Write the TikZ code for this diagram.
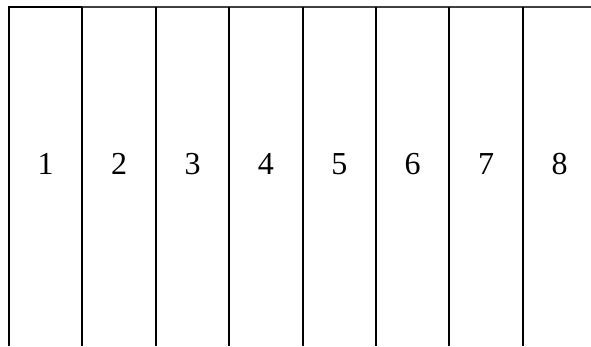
\documentclass[tikz,border=0pt]{standalone}
\usepackage{fontspec}
\setmainfont{Liberation Serif}
\begin{document}
\begin{tikzpicture}[x=1pt,y=-1pt,
  divider/.style={line width=2pt,black},
  topline/.style={line width=2pt,black!75},
  num/.style={font=\fontsize{32}{36}\selectfont,inner sep=0pt,anchor=center}]
\useasboundingbox (0,0) rectangle (591,347);
\coordinate (tl) at (8,7);
\coordinate (tr) at (591,7);
\draw[topline] (tl) -- (tr);
\foreach \i in {0,...,7}{
  \coordinate (t\i) at ({9+73.4*\i},7);
  \coordinate (b\i) at ({9+73.4*\i},346);
  \draw[divider] (t\i) -- (b\i);
}
\draw[divider] (tl) -- (t1);
\foreach \i in {1,...,8}{
  \node[num] (n\i) at ({9+73.4*(\i-0.5)},164) {\i};
}
\end{tikzpicture}
\end{document}
